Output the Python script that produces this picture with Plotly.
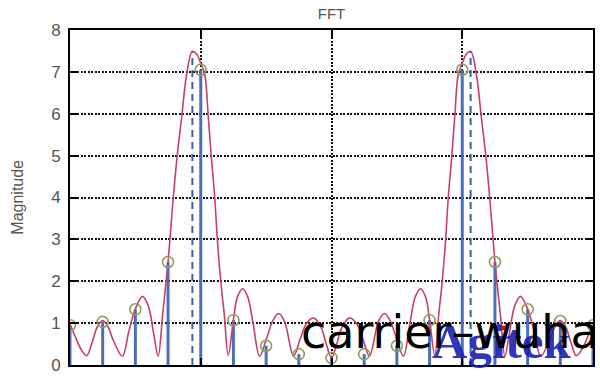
import plotly.graph_objects as go

# ---- data ----
stem_x = [0.0, 0.25, 0.5, 0.75, 1.0, 1.25, 1.5, 1.75, 2.0, 2.25, 2.5, 2.75, 3.0, 3.25, 3.5, 3.75, 4.0]
stem_y = [0.95, 1.03, 1.33, 2.46, 7.05, 1.07, 0.46, 0.26, 0.17, 0.26, 0.46, 1.07, 7.05, 2.46, 1.33, 1.05, 0.95]

curve_x = [0.0, 0.04, 0.08, 0.127, 0.17, 0.21, 0.25, 0.29, 0.33, 0.40, 0.45, 0.50, 0.555, 0.60, 0.64,
           0.674, 0.71, 0.75, 0.79, 0.82, 0.857, 0.89, 0.936, 0.97, 1.0, 1.03, 1.056, 1.08, 1.107,
           1.127, 1.153, 1.18, 1.21, 1.25, 1.28, 1.32, 1.36, 1.40, 1.45, 1.50, 1.55, 1.595, 1.64,
           1.71, 1.76, 1.81, 1.865, 1.92, 1.96, 2.0,
           2.04, 2.08, 2.135, 2.19, 2.24, 2.29, 2.36, 2.405, 2.45, 2.50, 2.55, 2.60, 2.64, 2.68,
           2.72, 2.75, 2.79, 2.82, 2.847, 2.873, 2.893, 2.92, 2.944, 2.97, 3.0, 3.03, 3.064, 3.11,
           3.143, 3.18, 3.21, 3.25, 3.29, 3.326, 3.36, 3.40, 3.445, 3.50, 3.55, 3.60, 3.67, 3.71,
           3.75, 3.79, 3.83, 3.873, 3.92, 3.96, 4.0]
curve_y = [0.97, 0.68, 0.40, 0.22, 0.55, 0.92, 1.06, 0.92, 0.60, 0.21, 0.80, 1.34, 1.64, 1.40, 0.75,
           0.21, 1.25, 2.47, 4.0, 5.0, 6.0, 6.9, 7.49, 7.42, 7.2, 6.95, 6.0, 5.0, 4.0,
           3.0, 2.0, 1.2, 0.23, 1.08, 1.62, 1.82, 1.62, 1.0, 0.21, 0.6, 1.05, 1.23, 1.05,
           0.21, 0.62, 1.0, 1.12, 0.9, 0.5, 0.17,
           0.5, 0.9, 1.12, 1.0, 0.62, 0.21, 1.05, 1.23, 1.05, 0.6, 0.21, 1.0, 1.62, 1.82,
           1.62, 1.08, 0.23, 1.2, 2.0, 3.0, 4.0, 5.0, 6.0, 6.95, 7.2, 7.42, 7.49, 6.9,
           6.0, 5.0, 4.0, 2.47, 1.25, 0.21, 0.75, 1.40, 1.64, 1.34, 0.80, 0.21, 0.60, 0.92,
           1.06, 0.92, 0.55, 0.22, 0.40, 0.68, 0.97]

peak_x = [0.936, 3.064]
peak_y = [7.49, 7.49]

y_ticks = [0, 1, 2, 3, 4, 5, 6, 7, 8]
x_ticks = [0, 1, 2, 3, 4]

# ---- build ----
fig = go.Figure()

# stems
sx, sy = [], []
for x, y in zip(stem_x, stem_y):
    sx += [x, x, None]
    sy += [0, y, None]
fig.add_trace(go.Scatter(x=sx, y=sy, mode="lines",
                         line=dict(color="#4a6fb5", width=3), hoverinfo="skip"))

# dashed peak markers
dx, dy = [], []
for x, y in zip(peak_x, peak_y):
    dx += [x, x, None]
    dy += [0, y, None]
fig.add_trace(go.Scatter(x=dx, y=dy, mode="lines",
                         line=dict(color="#3c5fa6", width=2, dash="7px,5px"), hoverinfo="skip"))

# continuous spectrum
fig.add_trace(go.Scatter(x=curve_x, y=curve_y, mode="lines",
                         line=dict(color="#c8406a", width=1.6, shape="spline", smoothing=1.0)))

# stem heads
fig.add_trace(go.Scatter(x=stem_x, y=stem_y, mode="markers",
                         marker=dict(symbol="circle-open", size=11, color="#8e9c60",
                                     line=dict(width=1.6, color="#8e9c60"))))

axis_common = dict(showline=True, linewidth=2, linecolor="black", mirror="ticks",
                   ticks="inside", ticklen=7, tickwidth=2, tickcolor="black",
                   showgrid=True, gridcolor="#111", gridwidth=2, griddash="2px,1.5px",
                   zeroline=False)

fig.update_xaxes(range=[0, 4], tickvals=x_ticks, showticklabels=False, **axis_common)
fig.update_yaxes(range=[0, 8], tickvals=y_ticks,
                 tickfont=dict(family="Liberation Sans, Arial, sans-serif", size=17, color="#555"),
                 ticklabelstandoff=4, **axis_common)

fig.update_layout(
    width=600, height=380,
    margin=dict(l=70, r=5, t=30, b=11),
    paper_bgcolor="white", plot_bgcolor="white",
    showlegend=False,
    title=dict(text="FFT", x=0.5, xref="paper", xanchor="center",
               y=1 - 14 / 380, yanchor="middle",
               font=dict(family="Liberation Sans, Arial, sans-serif", size=15, color="#555")),
)

fig.add_annotation(text="Magnitude", textangle=-90, xref="paper", yref="paper",
                   x=(17 - 70) / 525, y=0.5, xanchor="center", yanchor="middle", showarrow=False,
                   font=dict(family="Liberation Sans, Arial, sans-serif", size=16, color="#555"))

# watermarks
fig.add_annotation(text="<b>Agitek</b>", xref="paper", yref="paper",
                   x=(431 - 70) / 525, y=(369 - 359) / 339, xanchor="left", yanchor="bottom",
                   yshift=-16, showarrow=False, opacity=0.9,
                   font=dict(family="Liberation Serif, Times New Roman, serif", size=49, color="#1a20b2"))
fig.add_annotation(text="\u25cf", xref="paper", yref="paper",
                   x=(505 - 70) / 525, y=(369 - 330) / 339, xanchor="center", yanchor="middle",
                   showarrow=False, font=dict(size=11, color="#e01010"))
fig.add_annotation(text="carrier\u2013wuha", xref="paper", yref="paper",
                   x=(300 - 70) / 525, y=(369 - 350) / 339, xanchor="left", yanchor="bottom",
                   yshift=-15, showarrow=False,
                   font=dict(family="DejaVu Sans, sans-serif", size=46, color="black"))

fig.write_html("out.html")
